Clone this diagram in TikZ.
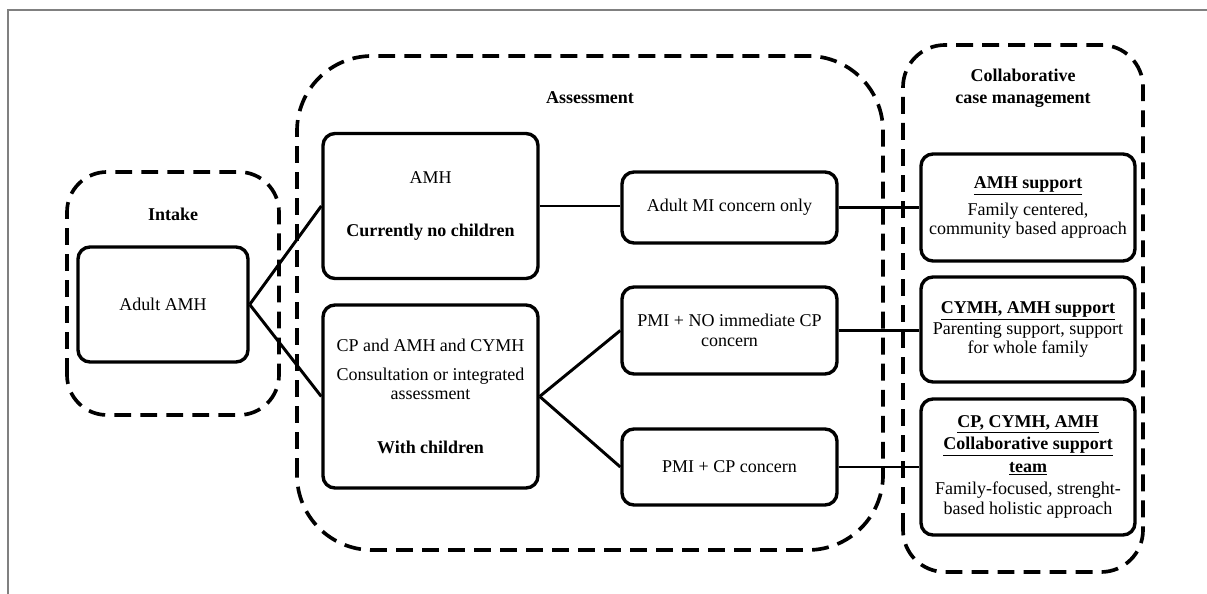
\documentclass[tikz,border=0pt]{standalone}
\usepackage{fontspec}
\setmainfont{Liberation Serif}
\usepackage{tikz}
\tikzset{
    stagebox/.style={draw, line width=2.4pt, rounded corners=0.3cm, align=center,
        inner sep=0pt, font=\fontsize{12.8}{14}\selectfont},
    groupbox/.style={line width=2.6pt, dash pattern=on 12pt off 6.5pt, rounded corners=#1},
    grouptitle/.style={align=center, font=\fontsize{12.8}{15.6}\selectfont\bfseries},
    link/.style={line width=2.1pt},
}

\begin{document}
\begin{tikzpicture}
\useasboundingbox (0,0) rectangle (30.175,14.85);
\draw[color=gray, line width=1.1pt] (0.2,0) -- (0.2,14.6) -- (30.175,14.6);

\draw[groupbox=1cm] (1.675,4.475) rectangle (6.975,10.55);
\draw[groupbox=1.875cm] (7.425,1.1) rectangle (22.075,13.45);
\draw[groupbox=1.05cm] (22.575,0.55) rectangle (28.575,13.725);

\node[grouptitle] (intake) at (4.325,9.5) {Intake};
\node[grouptitle] (assess) at (14.75,12.4) {Assessment};
\node[grouptitle] (collab) at (25.575,12.65) {Collaborative\\case management};

\node[stagebox, minimum width=4.25cm, minimum height=2.875cm] (adult) at (4.075,7.2375) {Adult AMH};

\node[stagebox, minimum width=5.375cm, minimum height=3.625cm] (nochild) at (10.7625,9.7) {AMH\\[24pt]\textbf{Currently no children}};
\node[stagebox, minimum width=5.375cm, minimum height=4.575cm] (withchild) at (10.7625,4.9375) {CP and AMH and CYMH\\[6pt]Consultation or integrated\\assessment\\[24pt]\textbf{With children}};

\node[stagebox, minimum width=5.375cm, minimum height=1.775cm] (onlymi) at (18.2375,9.6625) {Adult MI concern only};
\node[stagebox, minimum width=5.375cm, minimum height=2.175cm] (noimm) at (18.2375,6.5875) {PMI + NO immediate CP\\concern};
\node[stagebox, minimum width=5.375cm, minimum height=1.9cm] (cpcon) at (18.2375,3.175) {PMI + CP concern};

\node[stagebox, minimum width=5.35cm, minimum height=2.675cm] (amhsup) at (25.7,9.6625) {\underline{\textbf{AMH support}}\\[5pt]Family centered,\\community based approach};
\node[stagebox, minimum width=5.35cm, minimum height=2.625cm] (cymhsup) at (25.7,6.6125) {\underline{\textbf{CYMH, AMH support}}\\[1pt]Parenting support, support\\for whole family};
\node[stagebox, minimum width=5.35cm, minimum height=3.4cm] (teamsup) at (25.7,3.175) {\underline{\textbf{CP, CYMH, AMH}}\\[2pt]\underline{\textbf{Collaborative support}}\\[2pt]\underline{\textbf{team}}\\[2pt]Family-focused, strenght-\\based holistic approach};

\draw[link] (adult.east) -- (nochild.west);
\draw[link] (adult.east) -- (withchild.west);
\draw[link] (withchild.east) -- (noimm.west);
\draw[link] (withchild.east) -- (cpcon.west);
\draw[link] (nochild.east) -- (nochild.east -| onlymi.west);
\draw[link] (onlymi.east) -- (onlymi.east -| amhsup.west);
\draw[link] (noimm.east) -- (noimm.east -| cymhsup.west);
\draw[link] (cpcon.east) -- (cpcon.east -| teamsup.west);
\end{tikzpicture}
\end{document}
